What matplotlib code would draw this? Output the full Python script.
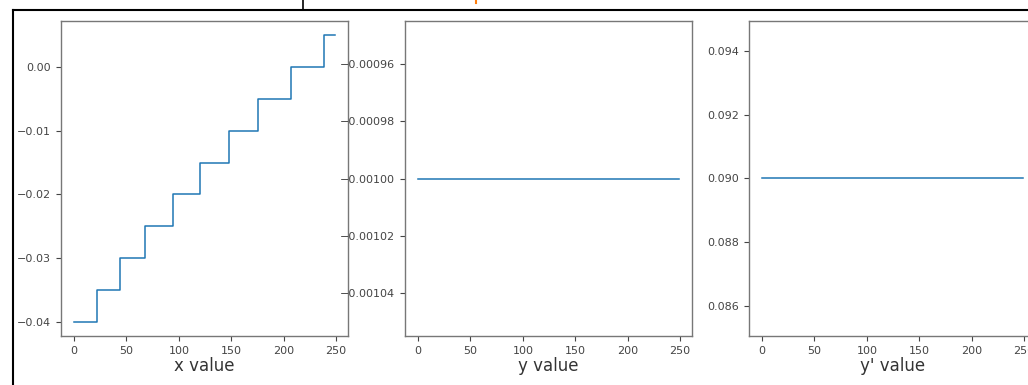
import numpy as np
import matplotlib
matplotlib.use("Agg")
import matplotlib.pyplot as plt
from matplotlib.lines import Line2D

# ---------------- DATA ----------------
# x value: staircase (step start index, level)
x_steps = [0, 22, 44, 68, 94, 120, 148, 176, 207, 239, 249]
x_levels = [-0.040, -0.035, -0.030, -0.025, -0.020, -0.015, -0.010, -0.005, 0.000, 0.005, 0.005]

# y value / y' value: flat over the same index range
y_index = [0, 249]
y_values = [-0.001, -0.001]
yp_values = [0.09, 0.09]

labels = ["x value", "y value", "y' value"]
y2_ticks = [-0.00096, -0.00098, -0.00100, -0.00102, -0.00104]
y3_ticks = [0.086, 0.088, 0.090, 0.092, 0.094]

# ---------------- FIGURE ----------------
W, H = 1028, 385
fig = plt.figure(figsize=(W / 100, H / 100), dpi=100)

spine_col = "#777777"
text_col = "#444444"

def px_axes(left, top, right, bottom):
    return fig.add_axes([left / W, 1 - bottom / H, (right - left) / W, (bottom - top) / H])

ax1 = px_axes(61, 21, 348, 336)
ax2 = px_axes(405, 21, 692, 336)
ax3 = px_axes(749, 21, 1036, 336)

ax1.plot(x_steps, x_levels, drawstyle="steps-post", color="#1f77b4", lw=1.1)
ax2.plot(y_index, y_values, color="#1f77b4", lw=1.1)
ax3.plot(y_index, yp_values, color="#1f77b4", lw=1.1)

for ax, lab in zip([ax1, ax2, ax3], labels):
    ax.set_xticks([0, 50, 100, 150, 200, 250])
    ax.tick_params(labelsize=8, colors=text_col, length=3.5, width=0.8)
    for s in ax.spines.values():
        s.set_color(spine_col)
        s.set_linewidth(1.0)
    ax.set_xlabel(lab, fontsize=12, color="#333333", labelpad=1)

ax2.set_yticks(y2_ticks)
ax2.set_yticklabels([f"{t:.5f}".replace("-", "\u2212") for t in y2_ticks])
ax3.set_yticks(y3_ticks)

# screenshot frame around the figure
fig.add_artist(Line2D([13 / W, 1.0], [1 - 10 / H, 1 - 10 / H], color="black", lw=1.5))
fig.add_artist(Line2D([13 / W, 13 / W], [0, 1 - 10 / H], color="black", lw=1.5))
fig.add_artist(Line2D([303 / W, 303 / W], [1 - 10 / H, 1.0], color="black", lw=1.2))
fig.add_artist(Line2D([476 / W, 476 / W], [1 - 3 / H, 1.0], color="#ff7f0e", lw=1.5))

fig.savefig("out.png", dpi=100)
